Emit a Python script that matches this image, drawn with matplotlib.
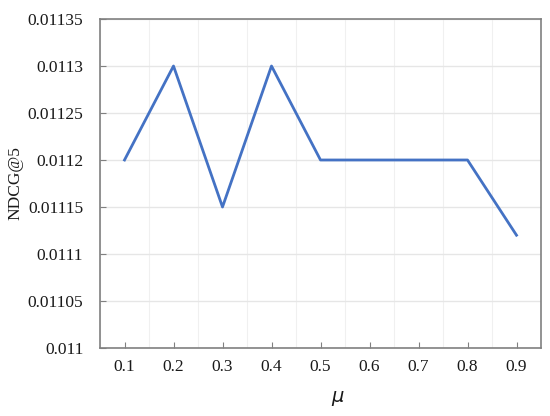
import matplotlib
matplotlib.use("Agg")
import matplotlib.pyplot as plt
import numpy as np
from matplotlib.ticker import MultipleLocator

mu = [0.1, 0.2, 0.3, 0.4, 0.5, 0.6, 0.7, 0.8, 0.9]
ndcg5 = [0.0112, 0.0113, 0.01115, 0.0113, 0.0112, 0.0112, 0.0112, 0.0112, 0.01112]
yticks = [0.011, 0.01105, 0.0111, 0.01115, 0.0112, 0.01125, 0.0113, 0.01135]
ylabels = ['0.011', '0.01105', '0.0111', '0.01115', '0.0112', '0.01125', '0.0113', '0.01135']

plt.rcParams['font.family'] = ['Liberation Serif', 'DejaVu Serif']

fig = plt.figure(figsize=(5.5, 4.16), dpi=100)
ax = fig.add_axes([100/550, 1 - 348/416, 441/550, 329/416])

ax.plot(mu, ndcg5, color='#4472C4', linewidth=2)

ax.set_xlim(0.05, 0.95)
ax.set_ylim(0.011, 0.01135)
ax.set_xticks(mu)
ax.set_xticklabels([f'{m:.1f}' for m in mu])
ax.set_yticks(yticks)
ax.set_yticklabels(ylabels)
ax.xaxis.set_minor_locator(MultipleLocator(0.05))

ax.grid(axis='y', which='major', color='#e6e6e6', linewidth=1)
ax.grid(axis='x', which='minor', color='#f0f0f0', linewidth=0.8)
ax.set_axisbelow(True)

for s in ax.spines.values():
    s.set_color('#808080')
    s.set_linewidth(1.2)

ax.tick_params(axis='both', which='major', direction='in', length=4, color='#808080',
               labelsize=12.5, labelcolor='#1a1a1a', pad=8)
ax.tick_params(axis='x', which='minor', length=0)
ax.tick_params(axis='y', which='major', pad=12)

ax.set_ylabel('NDCG@5', fontsize=12.5, color='#1a1a1a')
ax.yaxis.set_label_coords(-(100 - 23) / 441, 0.5)
ax.set_xlabel(r'$\mu$', fontsize=14, color='#1a1a1a')
ax.xaxis.set_label_coords((338 - 100) / 441, -(389 - 348) / 329)

fig.savefig('out.png', dpi=100)
